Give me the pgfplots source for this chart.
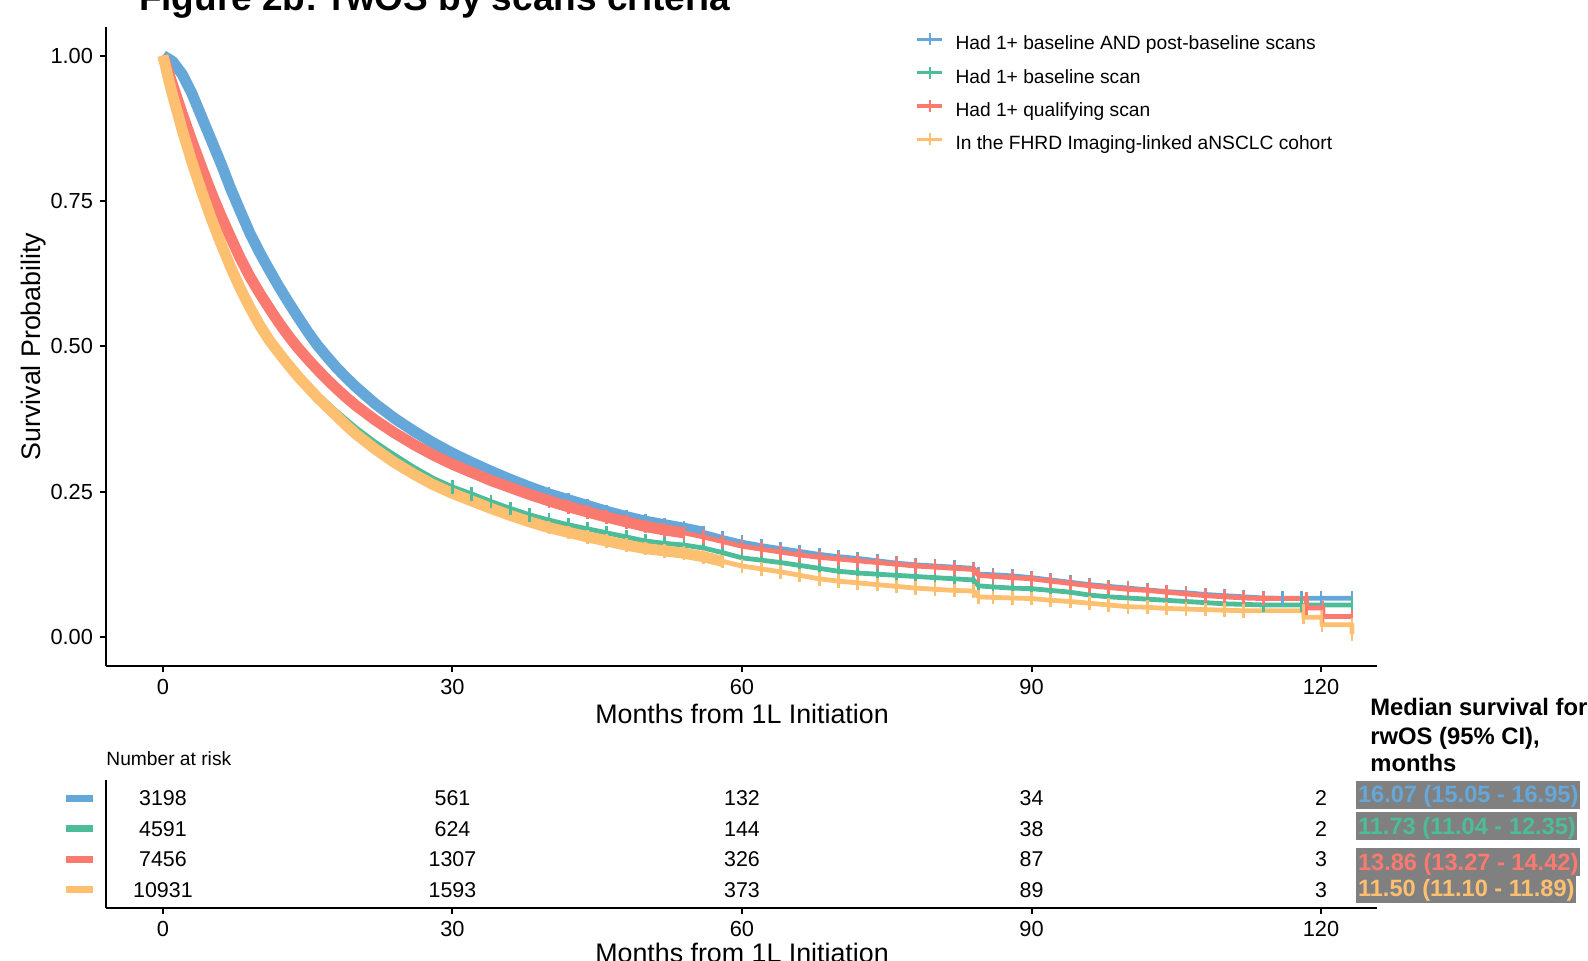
\documentclass[border=0pt]{standalone}
\usepackage{fontspec}
\setmainfont{Liberation Sans}
\usepackage{pgfplots}
\usepackage{pgfplotstable}
\pgfplotsset{compat=1.18}
\definecolor{cblue}{RGB}{100,167,216}
\definecolor{cgreen}{RGB}{76,189,152}
\definecolor{cred}{RGB}{250,122,112}
\definecolor{corange}{RGB}{253,191,112}
\definecolor{boxgray}{RGB}{128,128,128}
\newcommand\swatch[1]{\textcolor{#1}{\rule{13.5pt}{3.6pt}}}

\pgfplotstableread{
t S
0 1.0
1 0.99
2 0.968
3 0.935
4 0.895
5 0.855
6 0.815
7 0.772
8 0.733
9 0.695
10 0.662
11 0.632
12 0.603
13 0.576
14 0.550
15 0.525
16 0.502
17 0.482
18 0.463
19 0.446
20 0.430
22 0.401
24 0.376
26 0.354
28 0.334
30 0.316
32 0.300
34 0.285
36 0.271
38 0.258
40 0.246
42 0.236
44 0.226
46 0.216
48 0.207
50 0.199
52 0.193
54 0.187
56 0.180
58 0.171
60 0.163
62 0.157
64 0.152
66 0.147
68 0.142
70 0.138
72 0.135
74 0.131
76 0.127
78 0.124
80 0.122
82 0.120
84 0.118
84.5 0.108
86 0.107
88 0.105
90 0.102
92 0.098
94 0.094
96 0.090
98 0.087
100 0.084
102 0.081
104 0.078
106 0.076
108 0.073
110 0.071
112 0.069
114 0.067
116 0.0665
118 0.0665
120 0.0665
123.2 0.0665
}\blue

\pgfplotstableread{
t S
0 1.0
0.5 0.968
1 0.935
2 0.876
3 0.821
4 0.771
5 0.725
6 0.682
7 0.642
8 0.605
9 0.572
10 0.542
11 0.515
12 0.494
13 0.473
14 0.454
15 0.436
16 0.419
17 0.403
18 0.388
19 0.374
20 0.360
22 0.335
24 0.313
26 0.292
28 0.273
30 0.258
32 0.246
34 0.233
36 0.221
38 0.210
40 0.201
42 0.193
44 0.186
46 0.179
48 0.172
50 0.165
52 0.161
54 0.158
56 0.153
58 0.145
60 0.136
62 0.132
64 0.128
66 0.123
68 0.118
70 0.113
72 0.110
74 0.108
76 0.106
78 0.104
80 0.102
82 0.100
84 0.098
84.5 0.088
86 0.086
88 0.084
90 0.083
92 0.080
94 0.077
96 0.072
98 0.069
100 0.067
102 0.065
104 0.063
106 0.061
108 0.059
110 0.057
112 0.056
114 0.055
118 0.055
123.2 0.055
}\green

\pgfplotstableread{
t S
0 1.0
0.5 0.975
1 0.95
2 0.9
3 0.853
4 0.808
5 0.765
6 0.725
7 0.688
8 0.652
9 0.620
10 0.592
11 0.566
12 0.541
13 0.518
14 0.497
15 0.478
16 0.460
17 0.443
18 0.427
19 0.412
20 0.398
22 0.373
24 0.351
26 0.331
28 0.313
30 0.297
32 0.283
34 0.269
36 0.257
38 0.245
40 0.234
42 0.224
44 0.215
46 0.206
48 0.198
50 0.190
52 0.184
54 0.179
56 0.172
58 0.164
60 0.156
62 0.151
64 0.146
66 0.141
68 0.137
70 0.134
72 0.131
74 0.128
76 0.125
78 0.122
80 0.120
82 0.118
84 0.116
84.5 0.106
86 0.104
88 0.102
90 0.100
92 0.096
94 0.092
96 0.088
98 0.085
100 0.082
102 0.080
104 0.077
106 0.074
108 0.071
110 0.069
112 0.067
114 0.066
118.5 0.066
118.5 0.050
120.2 0.050
120.2 0.035
123.2 0.035
}\red

\pgfplotstableread{
t S
0 1.0
0.5 0.965
1 0.932
2 0.872
3 0.817
4 0.767
5 0.720
6 0.677
7 0.637
8 0.600
9 0.567
10 0.537
11 0.511
12 0.489
13 0.468
14 0.448
15 0.430
16 0.412
17 0.396
18 0.380
19 0.364
20 0.349
22 0.323
24 0.300
26 0.280
28 0.262
30 0.247
32 0.234
34 0.221
36 0.209
38 0.198
40 0.188
42 0.180
44 0.172
46 0.165
48 0.158
50 0.152
52 0.148
54 0.144
56 0.138
58 0.130
60 0.122
62 0.117
64 0.112
66 0.106
68 0.100
70 0.096
72 0.093
74 0.090
76 0.087
78 0.084
80 0.082
82 0.080
84 0.079
84.5 0.069
86 0.068
88 0.067
90 0.066
92 0.063
94 0.061
96 0.058
98 0.055
100 0.052
102 0.051
104 0.049
106 0.048
108 0.047
110 0.046
112 0.045
118.2 0.045
118.2 0.034
120.1 0.034
120.1 0.021
123.2 0.021
123.2 0.005
}\orange

\pgfplotstableread{
x y label
0 4 3198
30 4 561
60 4 132
90 4 34
120 4 2
0 3 4591
30 3 624
60 3 144
90 3 38
120 3 2
0 2 7456
30 2 1307
60 2 326
90 2 87
120 2 3
0 1 10931
30 1 1593
60 1 373
90 1 89
120 1 3
}\risk

\pgfplotsset{
  kmline/.style={line width=2.4pt, line join=round},
  kmband/.style={line width=5.5pt, line join=round, line cap=butt, forget plot},
  kmmarks/.style={only marks, mark=|, mark size=3.4pt, mark options={line width=1.4pt}, forget plot},
}

\begin{document}
\begin{tikzpicture}
\path[use as bounding box] (0,0) rectangle (794pt,-480.5pt);
\clip (0,0) rectangle (794pt,-480.5pt);

\begin{axis}[
  at={(53pt,-333pt)}, anchor=south west,
  scale only axis, width=635.5pt, height=319.7pt,
  xmin=-5.9, xmax=125.8, ymin=-0.05, ymax=1.05,
  axis lines=left, axis line style={-, line width=1.2pt},
  xtick={0,30,60,90,120}, ytick={0,0.25,0.5,0.75,1},
  tick align=outside, major tick length=3pt,
  tick style={line width=1pt, black},
  tick label style={font=\fontsize{10.9}{12}\selectfont},
  /pgf/number format/assume math mode=true,
  yticklabel style={/pgf/number format/.cd, fixed, fixed zerofill, precision=2, /tikz/.cd},
  legend style={at={(rel axis cs:0.6369,0.9915)}, anchor=north west, draw=none, fill=none,
    inner sep=0pt, outer sep=0pt, font=\fontsize{9.6}{11}\selectfont, row sep=4.3pt,
    nodes={inner sep=0pt, text height=7.5pt, text depth=3.6pt}},
  legend cell align=left,
  legend image code/.code={%
    \path[draw=none,fill=none] (0pt,0pt) (19.2pt,0pt);
    \draw[line width=1.6pt] (0pt,3.3pt) -- (12.5pt,3.3pt);
    \draw[line width=1.1pt] (6.25pt,0.3pt) -- (6.25pt,6.3pt);},
]
\addplot[cblue, kmline] table[x=t,y=S] {\blue};
\addlegendentry{Had 1+ baseline AND post-baseline scans}
\addplot[cblue, kmband, restrict x to domain=0:56] table[x=t,y=S] {\blue};
\addplot[cblue, kmmarks, restrict x to domain=40:124] table[x=t,y=S] {\blue};

\addplot[cgreen, kmline] table[x=t,y=S] {\green};
\addlegendentry{Had 1+ baseline scan}
\addplot[cgreen, kmmarks, restrict x to domain=30:124] table[x=t,y=S] {\green};

\addplot[cred, kmline] table[x=t,y=S] {\red};
\addlegendentry{Had 1+ qualifying scan}
\addplot[cred, kmband, restrict x to domain=0:54] table[x=t,y=S] {\red};
\addplot[cred, kmmarks, restrict x to domain=40:124] table[x=t,y=S] {\red};

\addplot[corange, kmline] table[x=t,y=S] {\orange};
\addlegendentry{In the FHRD Imaging-linked aNSCLC cohort}
\addplot[corange, kmband, restrict x to domain=0:58] table[x=t,y=S] {\orange};
\addplot[corange, kmmarks, restrict x to domain=40:124] table[x=t,y=S] {\orange};
\end{axis}

\begin{axis}[
  at={(53pt,-454pt)}, anchor=south west,
  scale only axis, width=635.5pt, height=64pt,
  xmin=-5.9, xmax=125.8, ymin=0.4, ymax=4.6,
  axis lines=left, axis line style={-, line width=1.2pt},
  xtick={0,30,60,90,120}, ytick={1,2,3,4},
  yticklabels={\swatch{corange},\swatch{cred},\swatch{cgreen},\swatch{cblue}},
  tick align=outside, major tick length=3pt,
  xtick style={line width=1pt, black}, ytick style={draw=none},
  yticklabel style={inner sep=0pt, xshift=-3.5pt},
  tick label style={font=\fontsize{10.9}{12}\selectfont},
  /pgf/number format/assume math mode=true,
]
\addplot[draw=none, mark=none, nodes near coords, point meta=explicit symbolic,
  nodes near coords style={anchor=center, inner sep=0pt, text=black, font=\fontsize{10.7}{12}\selectfont}]
  table[x=x,y=y,meta=label] {\risk};
\end{axis}

\node[anchor=base west, font=\bfseries\fontsize{18.5}{20}\selectfont] at (66pt,-5.5pt) {Figure 2b: rwOS by scans criteria};
\node[rotate=90, anchor=base, font=\fontsize{13.4}{15}\selectfont] at (20pt,-173.25pt) {Survival Probability};
\node[anchor=base, font=\fontsize{13.4}{15}\selectfont] at (371pt,-361.8pt) {Months from 1L Initiation};
\node[anchor=base west, inner sep=0pt, font=\fontsize{9.6}{11}\selectfont] at (53pt,-382.75pt) {Number at risk};
\node[anchor=base, font=\fontsize{13.4}{15}\selectfont] at (371pt,-481.3pt) {Months from 1L Initiation};

\node[anchor=base west, inner sep=0pt, font=\bfseries\fontsize{11.9}{13}\selectfont] at (685pt,-357.5pt) {Median survival for};
\node[anchor=base west, inner sep=0pt, font=\bfseries\fontsize{11.9}{13}\selectfont] at (685pt,-372pt) {rwOS (95\% CI),};
\node[anchor=base west, inner sep=0pt, font=\bfseries\fontsize{11.9}{13}\selectfont] at (685pt,-385.5pt) {months};

\tikzset{medbox/.style={anchor=base west, fill=boxgray, inner xsep=0.8pt, inner ysep=0pt, text height=10.8pt, text depth=3.1pt, font=\bfseries\fontsize{11.8}{13}\selectfont}}
\node[medbox, text=cblue] at (678pt,-401.25pt) {16.07 (15.05 - 16.95)};
\node[medbox, text=cgreen] at (678pt,-417pt) {11.73 (11.04 - 12.35)};
\node[medbox, text=cred] at (678pt,-435pt) {13.86 (13.27 - 14.42)};
\node[medbox, text=corange] at (678pt,-448.25pt) {11.50 (11.10 - 11.89)};
\end{tikzpicture}
\end{document}
